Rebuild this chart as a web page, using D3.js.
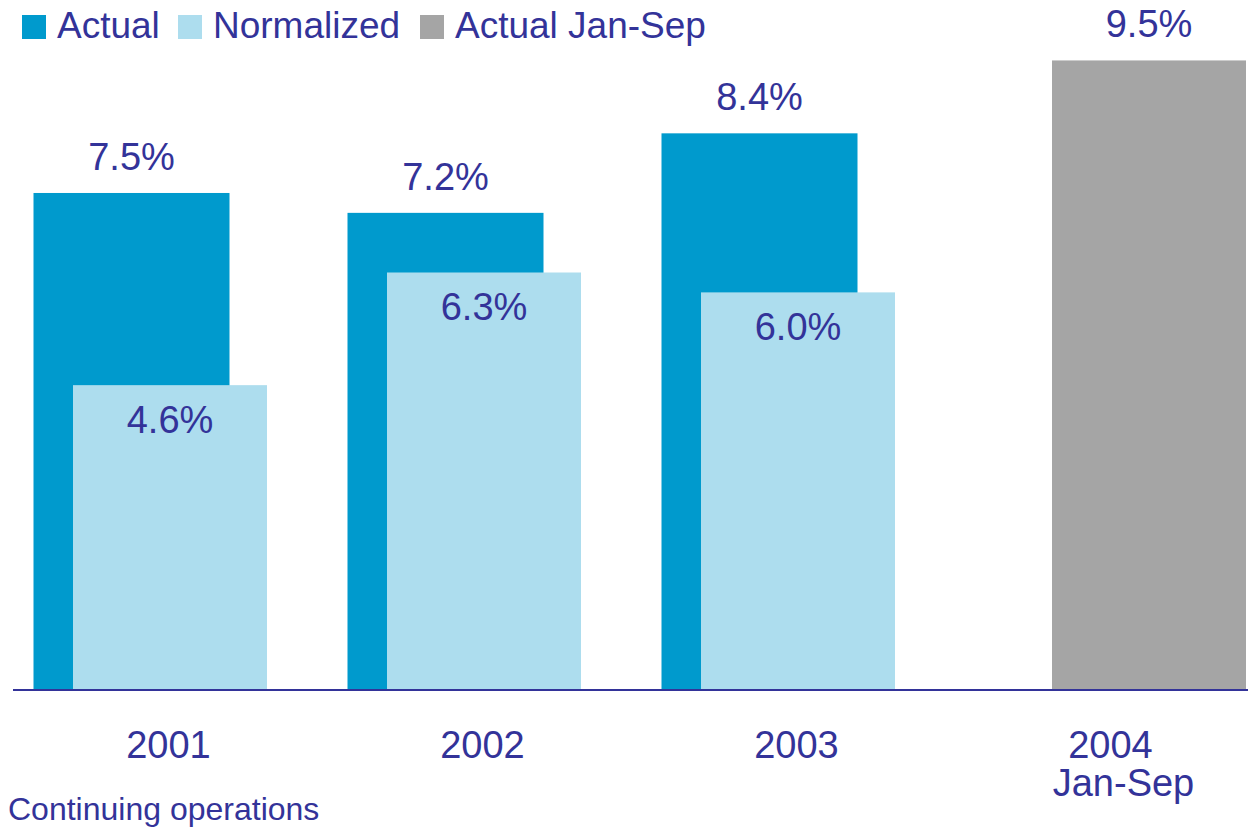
<!DOCTYPE html>
<html>
<head>
<meta charset="utf-8">
<script src="https://cdn.jsdelivr.net/npm/d3@7"></script>
<style>
  html, body { margin: 0; padding: 0; background: #fff; }
  svg { display: block; font-family: "Liberation Sans", Arial, sans-serif; }
</style>
</head>
<body>
<div id="chart"></div>
<script>
// data
let years = ["2001", "2002", "2003", "2004"];
let actual = [7.5, 7.2, 8.4, null];
let normalized = [4.6, 6.3, 6.0, null];
let actualJanSep = [null, null, null, 9.5];
let yearLabels = [["2001"], ["2002"], ["2003"], ["2004", "Jan-Sep"]];
let legendNames = ["Actual", "Normalized", "Actual Jan-Sep"];
let footnote = "Continuing operations";

let w = 1248;
let h = 827;
let textColor = "#333399";
let colors = ["#009ACD", "#ADDDEE", "#A5A5A5"];

let svg = d3.select("#chart")
    .append("svg")
    .attr("width", w)
    .attr("height", h)
    .attr("viewBox", "0 0 " + w + " " + h);

let xScale = d3.scaleBand().domain(years).range([33.5, 33.5 + 4 * 314]).padding(0);
let yScale = d3.scaleLinear().domain([0, 10]).range([690, 27.3]);

// bar series: value array, x offset in band, width
let series = [
    { values: actual, dx: 0, width: 196, color: colors[0] },
    { values: normalized, dx: 39.5, width: 194, color: colors[1] },
    { values: actualJanSep, dx: 76.5, width: 194, color: colors[2] }
];

series.forEach(function (s) {
    let rows = years.map(function (y, i) { return { year: y, v: s.values[i] }; })
        .filter(function (d) { return d.v != null; });
    svg.append("g").selectAll("rect")
        .data(rows)
        .enter()
        .append("rect")
        .attr("x", function (d) { return xScale(d.year) + s.dx; })
        .attr("y", function (d) { return yScale(d.v); })
        .attr("width", s.width)
        .attr("height", function (d) { return yScale(0) - yScale(d.v); })
        .attr("fill", s.color);
});

// value labels: above for actual series, inside for normalized
function addLabels(s, inside) {
    let rows = years.map(function (y, i) { return { year: y, v: s.values[i] }; })
        .filter(function (d) { return d.v != null; });
    svg.append("g").selectAll("text")
        .data(rows)
        .enter()
        .append("text")
        .attr("x", function (d) { return xScale(d.year) + s.dx + s.width / 2; })
        .attr("y", function (d) { return inside ? yScale(d.v) + 48 : yScale(d.v) - 23; })
        .attr("text-anchor", "middle")
        .attr("font-size", 38)
        .attr("fill", textColor)
        .text(function (d) { return d.v.toFixed(1) + "%"; });
}
addLabels(series[0], false);
addLabels(series[1], true);
addLabels(series[2], false);

// baseline
svg.append("line")
    .attr("x1", 13)
    .attr("x2", w)
    .attr("y1", yScale(0))
    .attr("y2", yScale(0))
    .attr("stroke", textColor)
    .attr("stroke-width", 2);

// category labels
let cats = svg.append("g").selectAll("text")
    .data(years)
    .enter()
    .append("text")
    .attr("x", function (d) { return xScale(d) + 135; })
    .attr("y", 758)
    .attr("text-anchor", "middle")
    .attr("font-size", 38)
    .attr("fill", textColor);

cats.selectAll("tspan")
    .data(function (d, i) { return yearLabels[i]; })
    .enter()
    .append("tspan")
    .attr("x", function () { return xScale(d3.select(this.parentNode).datum()) + 135; })
    .attr("dx", function (d, i) { return i == 0 ? 0 : 13; })
    .attr("dy", function (d, i) { return i == 0 ? 0 : 38; })
    .text(function (d) { return d; });

// legend
let legendX = [22, 178, 420];
let legend = svg.append("g").selectAll("g")
    .data(legendNames)
    .enter()
    .append("g")
    .attr("transform", function (d, i) { return "translate(" + legendX[i] + ",15)"; });

legend.append("rect")
    .attr("width", 24)
    .attr("height", 24)
    .attr("fill", function (d, i) { return colors[i]; });

legend.append("text")
    .attr("x", 35)
    .attr("y", 23)
    .attr("font-size", 37)
    .attr("fill", textColor)
    .text(function (d) { return d; });

// footnote
svg.append("text")
    .attr("x", 8)
    .attr("y", 820)
    .attr("font-size", 32)
    .attr("fill", textColor)
    .text(footnote);
</script>
</body>
</html>
